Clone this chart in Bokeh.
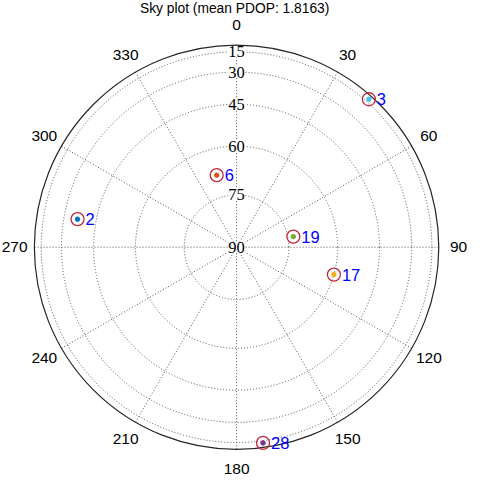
import numpy as np
from bokeh.plotting import figure
from bokeh.models import Range1d, ColumnDataSource, LabelSet
from bokeh.core.properties import value
from bokeh.embed import file_html
from bokeh.resources import INLINE

# ---- data ----
title_text = "Sky plot (mean PDOP: 1.8163)"
sat_ids = ["2", "3", "6", "17", "19", "28"]
sat_azimuth = [280.0, 41.8, 344.6, 105.7, 79.4, 172.3]     # degrees, clockwise from north
sat_elevation = [37.0, 11.0, 68.3, 60.0, 73.4, 12.4]        # degrees
sat_colors = ["#0072BD", "#4DBEEE", "#D95319", "#EDB120", "#77AC30", "#7E2F8E"]
az_ticks = [0, 30, 60, 90, 120, 150, 180, 210, 240, 270, 300, 330]
el_ticks = [15, 30, 45, 60, 75, 90]

FONT = "Liberation Sans"
W, H = 468, 477
S = 0.9675                      # fit scale
CX, CY = 244 * S, 255 * S       # centre in canvas px
R_PX = 209 * S                  # outer radius in px

def proj(az, el):
    az = np.radians(np.asarray(az, dtype=float))
    r = np.cos(np.radians(np.asarray(el, dtype=float)))
    return r * np.sin(az), r * np.cos(az)

p = figure(width=W, height=H, output_backend="svg", toolbar_location=None,
           x_range=Range1d(-CX / R_PX, (W - CX) / R_PX),
           y_range=Range1d(-(H - CY) / R_PX, CY / R_PX),
           min_border=0)
p.axis.visible = False
p.grid.visible = False
p.outline_line_color = None
p.background_fill_color = "white"

GRID = "#555555"
# elevation rings (dotted)
ring_r = [float(np.cos(np.radians(e))) for e in el_ticks if e < 90]
p.circle(x=[0] * len(ring_r), y=[0] * len(ring_r), radius=ring_r,
         fill_color=None, line_color=GRID, line_dash="1 2", line_width=1)

# azimuth spokes (dotted)
sx, sy = proj(az_ticks, [0] * len(az_ticks))
p.segment(x0=[0] * len(az_ticks), y0=[0] * len(az_ticks), x1=sx, y1=sy,
          line_color=GRID, line_dash="1 2", line_width=1)

# outer circle
p.circle(x=[0], y=[0], radius=[1.0], fill_color=None, line_color="#262626", line_width=1.2)

# azimuth labels
lab_r = 222.0 / R_PX
ax_ = lab_r * np.sin(np.radians(az_ticks))
ay_ = lab_r * np.cos(np.radians(az_ticks))
p.text(x=ax_, y=ay_, text=[str(a) for a in az_ticks], text_align="center",
       text_baseline="middle", text_font=value(FONT), text_font_size="15.5px",
       text_color="#000000")

# elevation labels (with white background) along north spoke
el_src = ColumnDataSource(dict(
    x=[0.0] * len(el_ticks),
    y=[float(np.cos(np.radians(e))) for e in el_ticks],
    t=[str(e) for e in el_ticks]))
p.add_layout(LabelSet(x="x", y="y", text="t", source=el_src, text_align="center",
                      text_baseline="middle", text_font=FONT, text_font_size="16.5px",
                      text_color="#000000", background_fill_color="white"))

# satellites
sxs, sys_ = proj(sat_azimuth, sat_elevation)
src = ColumnDataSource(dict(x=sxs, y=sys_, id=sat_ids, c=sat_colors))
p.scatter(x="x", y="y", source=src, size=13, marker="circle", fill_color=None,
          line_color="#C0283C", line_width=1.3)
p.scatter(x="x", y="y", source=src, size=4.5, marker="circle", fill_color="c", line_color="c")
p.text(x="x", y="y", text="id", source=src, x_offset=8, text_align="left",
       text_baseline="middle", text_font=value(FONT), text_font_size="16.5px",
       text_color="#0000FF")

# title
p.text(x=[(242 * S - CX) / R_PX], y=[(CY - 8 * S) / R_PX], text=[title_text], text_align="center",
       text_baseline="middle", text_font=value(FONT), text_font_size="13.8px", text_color="#000000")

open("out.html", "w").write(file_html(p, INLINE))
